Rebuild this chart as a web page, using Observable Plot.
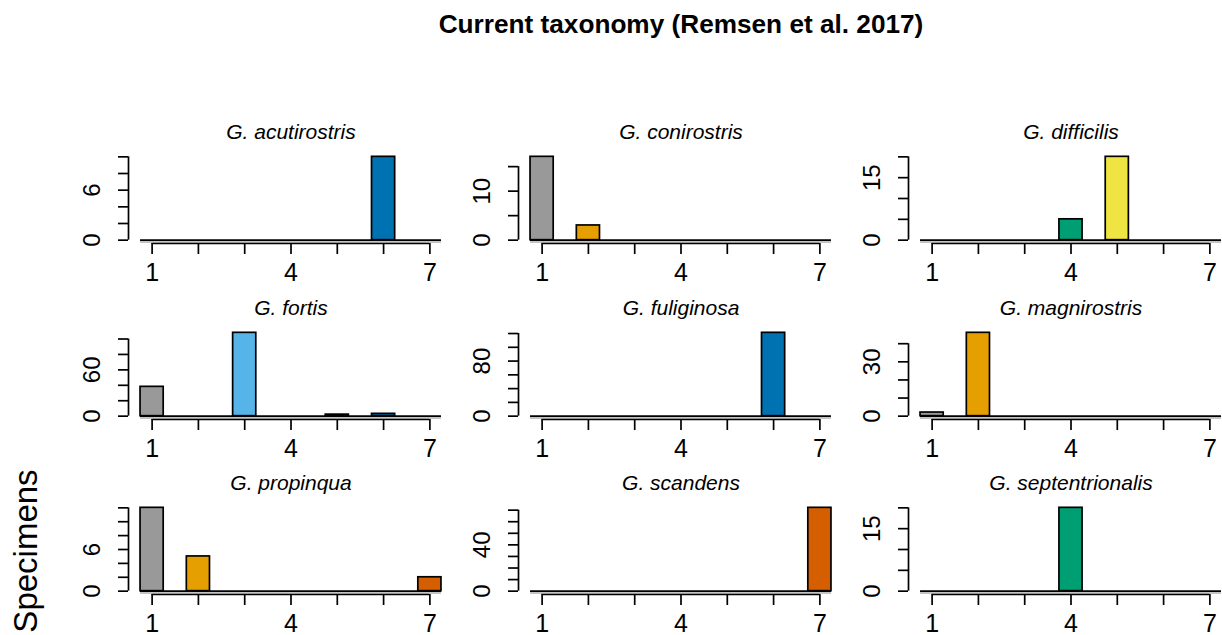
<!DOCTYPE html>
<html>
<head>
<meta charset="utf-8">
<script src="https://cdn.jsdelivr.net/npm/d3@7"></script>
<script src="https://cdn.jsdelivr.net/npm/@observablehq/plot@0.6"></script>
<style>
  html, body { margin: 0; padding: 0; background: #fff; overflow: hidden; width: 1222px; height: 635px; }
  #page { position: relative; width: 1222px; height: 635px; overflow: hidden;
          font-family: "Liberation Sans", Arial, Helvetica, sans-serif; }
  .panel { position: absolute; }
</style>
</head>
<body>
<div id="page">
  <svg width="1222" height="635" style="position:absolute;left:0;top:0"
       font-family="Liberation Sans, Arial, Helvetica, sans-serif" fill="#000">
    <text x="681" y="33" text-anchor="middle" font-weight="bold" font-size="26.2">Current taxonomy (Remsen et al. 2017)</text>
    <text transform="translate(37,551) rotate(-90)" text-anchor="middle" font-size="33">Specimens</text>
  </svg>
</div>
<script>
// Bill-shape groups 1–7 and their fill colours
const categories = [1, 2, 3, 4, 5, 6, 7];
const categoryColors = ["#999999", "#E69F00", "#56B4E9", "#009E73", "#F0E442", "#0072B2", "#D55E00"];
const xLabels = [1, 4, 7];

// Specimen counts per group, one array per species
const acutirostris    = [0, 0, 0, 0, 0, 10, 0];
const conirostris     = [17, 3, 0, 0, 0, 0, 0];
const difficilis      = [0, 0, 0, 5, 20, 0, 0];
const fortis          = [38, 0, 108, 0, 2, 3, 0];
const fuliginosa      = [0, 0, 0, 0, 0, 121, 0];
const magnirostris    = [2, 46, 0, 0, 0, 0, 0];
const propinqua       = [12, 5, 0, 0, 0, 0, 2];
const scandens        = [0, 0, 0, 0, 0, 0, 72];
const septentrionalis = [0, 0, 0, 20, 0, 0, 0];

const speciesNames = ["G. acutirostris", "G. conirostris", "G. difficilis",
                      "G. fortis", "G. fuliginosa", "G. magnirostris",
                      "G. propinqua", "G. scandens", "G. septentrionalis"];
const speciesCounts = [acutirostris, conirostris, difficilis,
                       fortis, fuliginosa, magnirostris,
                       propinqua, scandens, septentrionalis];

// y-axis tick positions and the subset that carries a label
const yTicks = [
  [0, 2, 4, 6, 8, 10], [0, 5, 10, 15], [0, 5, 10, 15, 20],
  [0, 20, 40, 60, 80, 100], [0, 20, 40, 60, 80, 100, 120], [0, 10, 20, 30, 40],
  [0, 2, 4, 6, 8, 10, 12], [0, 10, 20, 30, 40, 50, 60, 70], [0, 5, 10, 15, 20]
];
const yLabels = [[0, 6], [0, 10], [0, 15], [0, 60], [0, 80], [0, 30], [0, 6], [0, 40], [0, 15]];

const font = "Liberation Sans, Arial, Helvetica, sans-serif";
const lw = 1.7;
const xDomain = [0.49, 7.51];

function panel(name, counts, ticks, labels) {
  const rows = categories.map((c, i) => ({category: c, count: counts[i], color: categoryColors[i]}));
  const ymax = d3.max(counts);
  const topTick = ticks[ticks.length - 1];
  return Plot.plot({
    width: 385, height: 175,
    marginLeft: 60, marginRight: 0, marginTop: 40, marginBottom: 45,
    style: {fontFamily: font, color: "#000", background: "transparent", overflow: "visible"},
    x: {type: "linear", domain: xDomain},
    y: {type: "linear", domain: [-0.04 * ymax, 1.04 * ymax]},
    color: {type: "identity"},
    marks: [
      // baseline formed by the empty bins
      Plot.ruleY([0], {x1: () => 0.75, x2: () => 7.25, stroke: "#c4c4c4", strokeWidth: 2, dy: 1.8}),
      Plot.ruleY([0], {x1: () => 0.75, x2: () => 7.25, stroke: "#000", strokeWidth: lw}),
      Plot.rect(rows.filter(d => d.count > 0), {
        x1: d => d.category - 0.25, x2: d => d.category + 0.25,
        y1: () => 0, y2: "count", fill: "color", stroke: "#000", strokeWidth: lw
      }),
      // y axis
      Plot.ruleX([xDomain[0]], {y1: () => 0, y2: () => topTick, stroke: "#000", strokeWidth: lw}),
      Plot.axisY({
        ticks, label: null, tickSize: 10, tickPadding: 19, tickRotate: -90, fontSize: 24,
        strokeWidth: lw, tickFormat: d => labels.includes(d) ? String(d) : ""
      }),
      // x axis
      Plot.ruleY([-0.04 * ymax], {x1: () => 1, x2: () => 7, stroke: "#000", strokeWidth: lw}),
      Plot.axisX({
        ticks: categories, label: null, tickSize: 11, tickPadding: 9, fontSize: 25,
        strokeWidth: lw, tickFormat: d => xLabels.includes(d) ? String(d) : ""
      }),
      // panel title
      Plot.text([name], {
        text: d => d, frameAnchor: "top", lineAnchor: "bottom", dy: -15,
        fontStyle: "italic", fontSize: 21, fill: "#000"
      })
    ]
  });
}

const page = document.getElementById("page");
speciesNames.forEach((name, i) => {
  const col = i % 3, row = Math.floor(i / 3);
  const chart = panel(name, speciesCounts[i], yTicks[i], yLabels[i]);
  chart.classList.add("panel");
  chart.style.left = (68 + 390 * col) + "px";
  chart.style.top = (113.3 + 175.5 * row) + "px";
  page.appendChild(chart);
});
</script>
</body>
</html>
